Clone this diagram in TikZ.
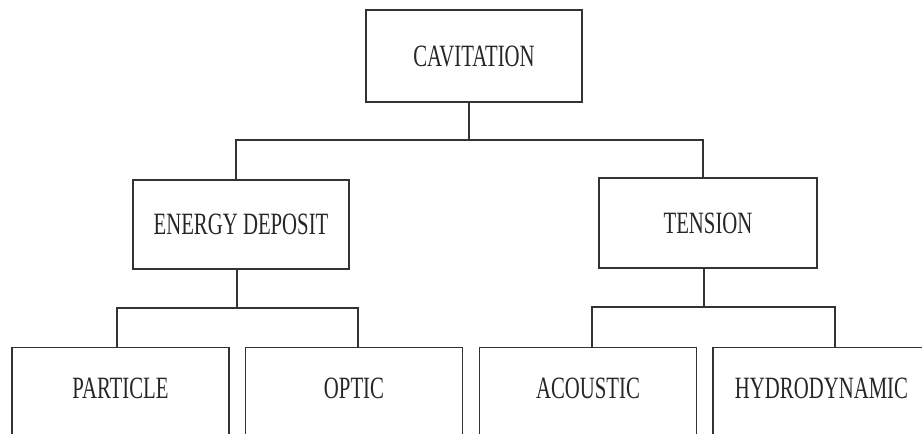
\documentclass[tikz,border=0pt]{standalone}
\usepackage{fontspec}
\setmainfont{Liberation Serif}[FakeStretch=0.67]
\begin{document}
\begin{tikzpicture}[x=1pt,y=-1pt,
  line width=1.4pt,
  ink/.style={draw=black!80},
  topbox/.style={ink, rectangle, inner sep=0pt, text=black!85,
    font=\fontsize{31}{36}\selectfont},
  leafbox/.style={topbox, anchor=north, minimum width=217pt,
    text height=51.2pt, text depth=41.8pt},
  link/.style={ink}]
  \useasboundingbox (0,0) rectangle (922,434);
  \clip (0,0) rectangle (922,434);

  % upper levels
  \node[topbox, minimum width=216pt, minimum height=92pt] (cav) at (474,56) {CAVITATION};
  \node[topbox, minimum width=216pt, minimum height=89pt] (ed) at (241,224.5) {ENERGY DEPOSIT};
  \node[topbox, minimum width=218pt, minimum height=90pt] (ten) at (708,223) {TENSION};

  % leaves (boxes run past the lower edge)
  \node[leafbox] (part) at (120.5,347) {PARTICLE};
  \node[leafbox] (opt) at (354,347) {OPTIC};
  \node[leafbox] (aco) at (588,347) {ACOUSTIC};
  \node[leafbox] (hyd) at (821.5,347) {HYDRODYNAMIC};

  % junction points of the tree
  \coordinate (t0) at (469,140);
  \coordinate (t0l) at (236,140);
  \coordinate (t0r) at (703,140);
  \coordinate (t1) at (237,308);
  \coordinate (t1l) at (117,308);
  \coordinate (t1r) at (358,308);
  \coordinate (t2) at (704,307);
  \coordinate (t2l) at (592,307);
  \coordinate (t2r) at (835,307);

  % connectors
  \draw[link] (cav.south -| t0) -- (t0);
  \draw[link] (t0l |- ed.north) -- (t0l) -- (t0r) -- (t0r |- ten.north);
  \draw[link] (ed.south -| t1) -- (t1);
  \draw[link] (t1l |- part.north) -- (t1l) -- (t1r) -- (t1r |- opt.north);
  \draw[link] (ten.south -| t2) -- (t2);
  \draw[link] (t2l |- aco.north) -- (t2l) -- (t2r) -- (t2r |- hyd.north);
\end{tikzpicture}
\end{document}
